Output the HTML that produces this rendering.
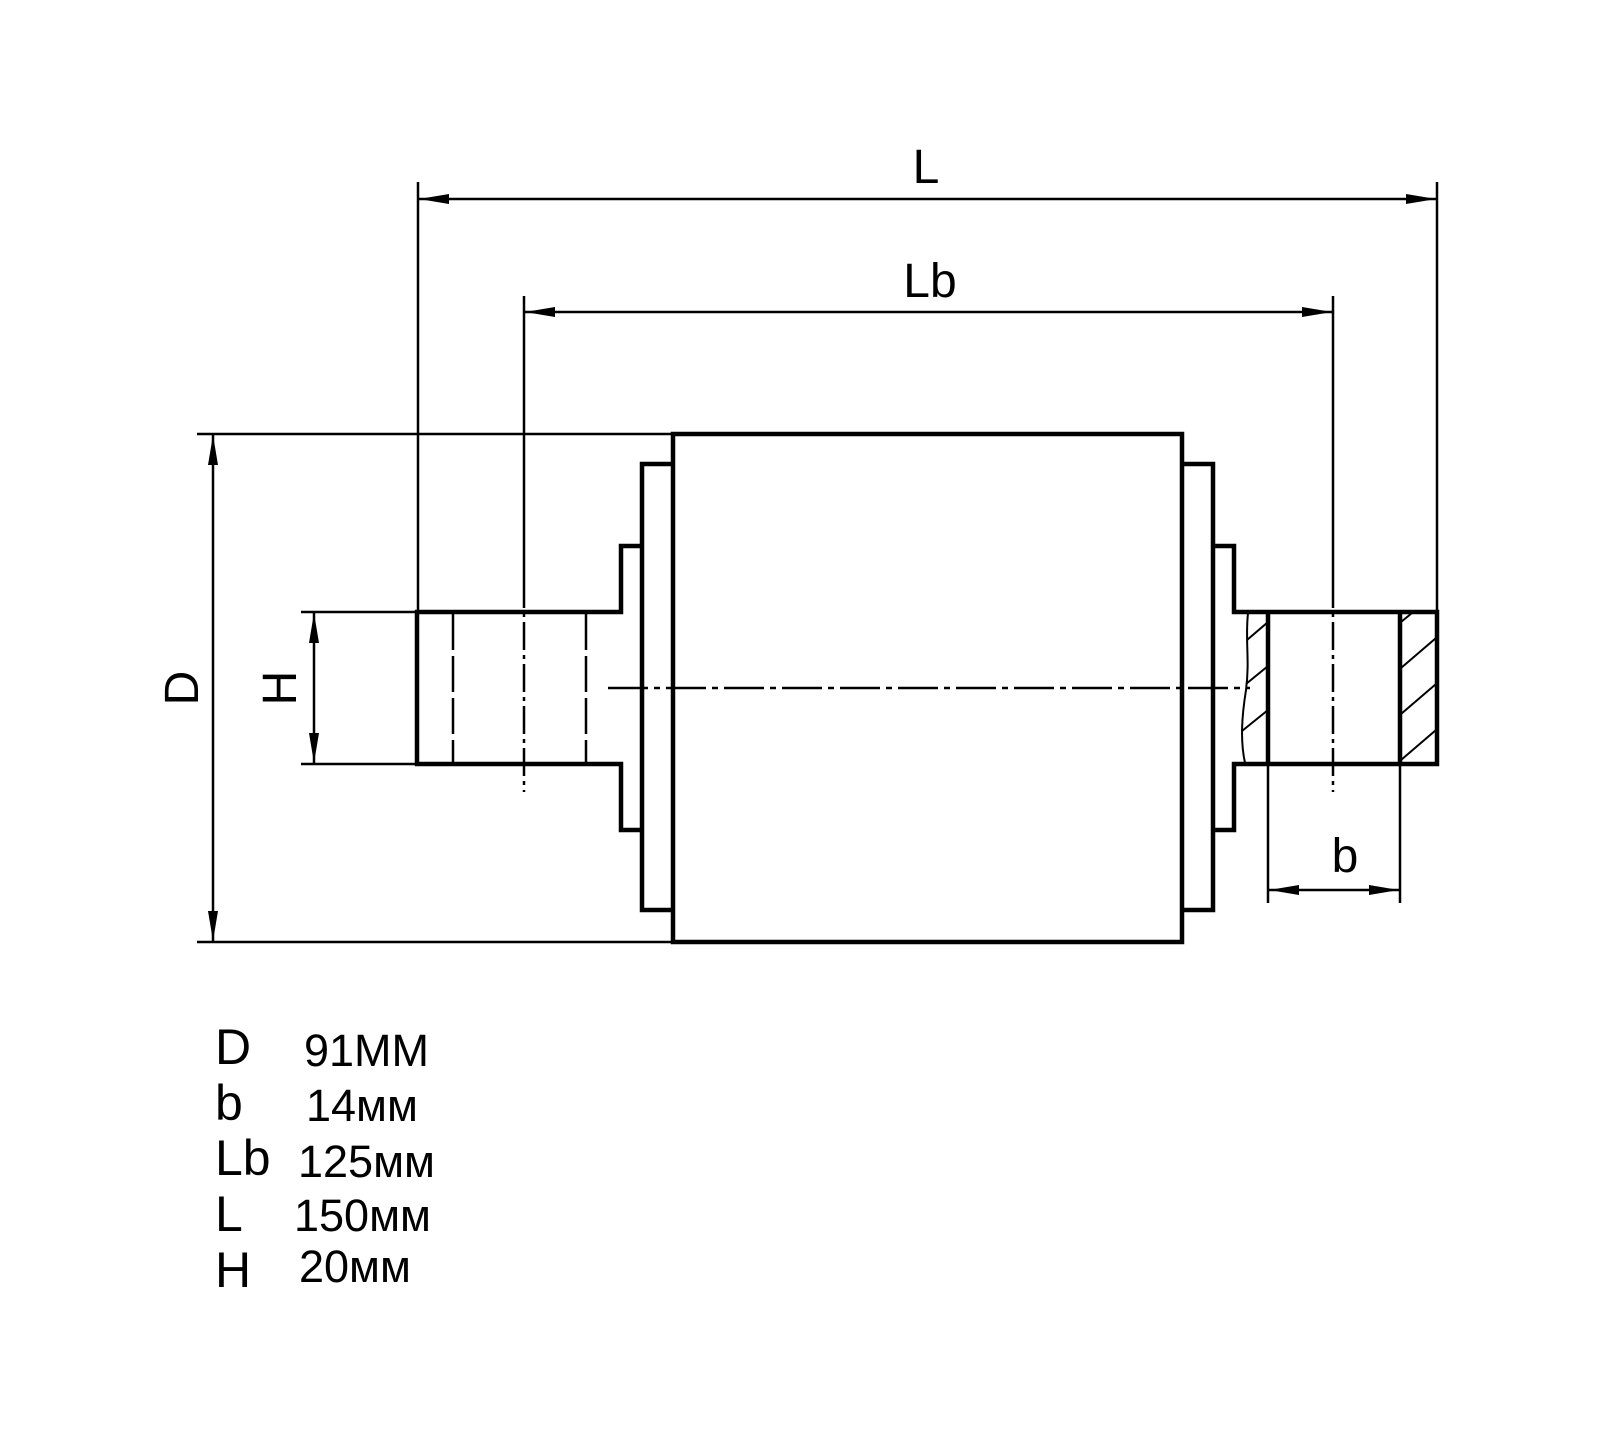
<!DOCTYPE html>
<html><head><meta charset="utf-8"><style>
html,body{margin:0;padding:0;background:#fff;}
svg{display:block}
text{font-family:"Liberation Sans",sans-serif;fill:#000}
</style></head><body>
<svg width="1600" height="1444" viewBox="0 0 1600 1444" xmlns="http://www.w3.org/2000/svg">
<defs>
<marker id="a" viewBox="0 0 30 10" refX="30" refY="5" markerWidth="30" markerHeight="10" markerUnits="userSpaceOnUse" orient="auto-start-reverse"><path d="M0,0 L30,5 L0,10 Z" fill="#000"/></marker>
</defs>
<g stroke="#000" fill="none" stroke-width="2.5">
<line x1="418" y1="182" x2="418" y2="612"/>
<line x1="1437" y1="182" x2="1437" y2="612"/>
<line x1="524" y1="296" x2="524" y2="580"/>
<line x1="1333" y1="296" x2="1333" y2="580"/>
<line x1="197" y1="434" x2="671" y2="434"/>
<line x1="197" y1="942" x2="671" y2="942"/>
<line x1="301" y1="612" x2="417" y2="612"/>
<line x1="301" y1="764" x2="417" y2="764"/>
<line x1="1268" y1="764" x2="1268" y2="903"/>
<line x1="1400" y1="764" x2="1400" y2="903"/>
<line x1="419" y1="199" x2="1436" y2="199" marker-start="url(#a)" marker-end="url(#a)"/>
<line x1="525" y1="312" x2="1332" y2="312" marker-start="url(#a)" marker-end="url(#a)"/>
<line x1="213" y1="435" x2="213" y2="941" marker-start="url(#a)" marker-end="url(#a)"/>
<line x1="314" y1="613" x2="314" y2="763" marker-start="url(#a)" marker-end="url(#a)"/>
<line x1="1269" y1="890" x2="1399" y2="890" marker-start="url(#a)" marker-end="url(#a)"/>
</g>
<g stroke="#000" fill="none" stroke-width="4.5">
<rect x="673" y="434" width="509" height="508"/>
<polyline points="673,464 642,464 642,910 673,910"/>
<polyline points="642,546 621,546 621,612 417,612 417,764 621,764 621,830 642,830"/>
<polyline points="1182,464 1213,464 1213,910 1182,910"/>
<polyline points="1213,546 1234,546 1234,612 1437,612 1437,764 1234,764 1234,830 1213,830"/>
<line x1="1268" y1="612" x2="1268" y2="764"/>
<line x1="1400" y1="612" x2="1400" y2="764"/>
</g>
<g stroke="#000" fill="none" stroke-width="2.5">
<line x1="453" y1="614" x2="453" y2="762" stroke-dasharray="36,6"/>
<line x1="586" y1="614" x2="586" y2="762" stroke-dasharray="36,6"/>
<line x1="524" y1="580" x2="524" y2="792" stroke-dasharray="28,5,4,5"/>
<line x1="1333" y1="580" x2="1333" y2="792" stroke-dasharray="28,5,4,5"/>
<line x1="608" y1="688" x2="1250" y2="688" stroke-dasharray="40,6,6,6"/>
</g>
<g stroke="#000" fill="none" stroke-width="2">
<path d="M1248,613 C1245,640 1250,660 1246,690 C1242,715 1240,740 1245,763"/>
<line x1="1247" y1="640" x2="1268" y2="622"/>
<line x1="1246" y1="684" x2="1268" y2="666"/>
<line x1="1242" y1="731" x2="1268" y2="710"/>
<line x1="1401" y1="622" x2="1412" y2="613"/>
<line x1="1401" y1="668" x2="1436" y2="638"/>
<line x1="1401" y1="714" x2="1436" y2="684"/>
<line x1="1401" y1="760" x2="1436" y2="730"/>
</g>
<text x="926" y="183" font-size="48" text-anchor="middle">L</text>
<text x="930" y="297" font-size="48" text-anchor="middle">Lb</text>
<text x="1345" y="872" font-size="48" text-anchor="middle">b</text>
<text transform="translate(198,688) rotate(-90)" font-size="48" text-anchor="middle">D</text>
<text transform="translate(296,688) rotate(-90)" font-size="48" text-anchor="middle">H</text>
<g font-size="50">
<text x="215" y="1064">D</text>
<text x="215" y="1120">b</text>
<text x="215" y="1175">Lb</text>
<text x="215" y="1231">L</text>
<text x="215" y="1287">H</text>
</g>
<g font-size="45">
<text x="304" y="1066">91MM</text>
<text x="306" y="1121">14мм</text>
<text x="298" y="1177">125мм</text>
<text x="294" y="1231">150мм</text>
<text x="299" y="1282">20мм</text>
</g>
</svg>
</body></html>
